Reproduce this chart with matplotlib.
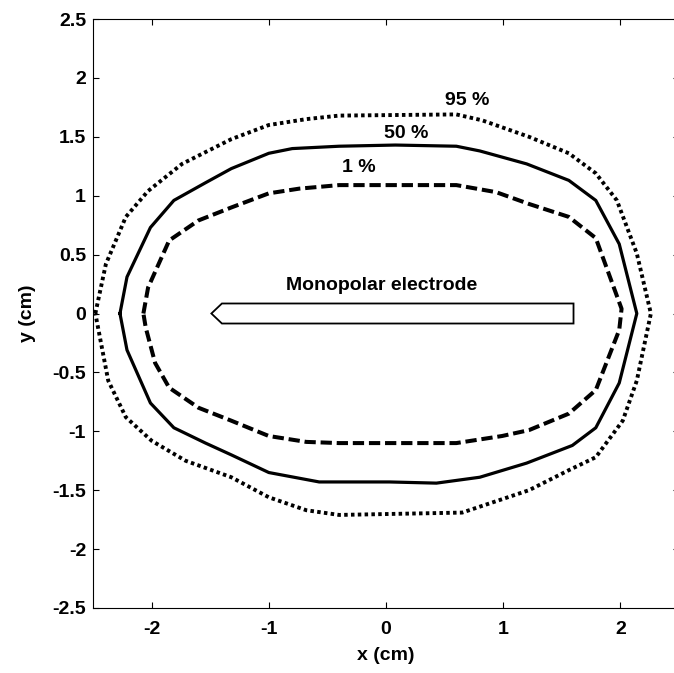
import matplotlib
matplotlib.use("Agg")
import matplotlib.pyplot as plt

plt.rcParams['font.family'] = ['Liberation Sans', 'DejaVu Sans']
plt.rcParams['font.weight'] = 'bold'
plt.rcParams['axes.labelweight'] = 'bold'

# contour levels (cm)
x_1pct = [-2.07, -2.03, -1.85, -1.6, -1.32, -1.0, -0.74, -0.4, 0.6, 0.94, 1.22, 1.56,
          1.79, 2.01, 1.99, 1.79, 1.56, 1.22, 0.99, 0.6, -0.4, -0.68, -1.0, -1.32,
          -1.6, -1.85, -1.97, -2.05, -2.07]
y_1pct = [0.0, 0.22, 0.62, 0.79, 0.9, 1.02, 1.06, 1.09, 1.09, 1.03, 0.93, 0.82,
          0.64, 0.04, -0.14, -0.65, -0.85, -0.99, -1.04, -1.1, -1.1, -1.09, -1.04, -0.91,
          -0.8, -0.63, -0.42, -0.12, 0.0]

x_50pct = [-2.27, -2.21, -2.01, -1.81, -1.54, -1.32, -1.0, -0.8, -0.4, 0.08, 0.6, 0.8,
           1.2, 1.56, 1.79, 1.99, 2.14, 1.99, 1.79, 1.59, 1.2, 0.8, 0.43, 0.03, -0.57,
           -1.0, -1.32, -1.54, -1.81, -2.01, -2.21, -2.27]
y_50pct = [0.0, 0.31, 0.73, 0.96, 1.11, 1.23, 1.36, 1.4, 1.42, 1.43, 1.42, 1.38,
           1.27, 1.13, 0.96, 0.59, 0.0, -0.59, -0.97, -1.12, -1.27, -1.39, -1.44, -1.43, -1.43,
           -1.35, -1.2, -1.1, -0.97, -0.76, -0.31, 0.0]

x_95pct = [-2.48, -2.39, -2.22, -2.03, -1.74, -1.32, -1.0, -0.68, -0.4, 0.6, 0.82,
           1.22, 1.56, 1.79, 1.97, 2.14, 2.26, 2.14, 2.02, 1.79, 1.56, 1.22, 0.65,
           -0.4, -0.68, -1.0, -1.32, -1.71, -2.0, -2.22, -2.37, -2.48]
y_95pct = [0.0, 0.42, 0.82, 1.04, 1.27, 1.48, 1.6, 1.65, 1.68, 1.69, 1.64,
           1.5, 1.36, 1.19, 0.96, 0.51, 0.0, -0.57, -0.91, -1.22, -1.33, -1.5, -1.69,
           -1.71, -1.67, -1.56, -1.39, -1.25, -1.08, -0.88, -0.57, 0.0]

# electrode outline
x_elec = [-1.49, -1.4, 1.6, 1.6, -1.4]
y_elec = [0.0, 0.085, 0.085, -0.085, -0.085]

labels = ["95 %", "50 %", "1 %"]
label_x = [0.69, 0.17, -0.23]
label_y = [1.81, 1.53, 1.24]

ticks_x = [-2, -1, 0, 1, 2]
ticks_y = [-2.5, -2, -1.5, -1, -0.5, 0, 0.5, 1, 1.5, 2, 2.5]

fig = plt.figure(figsize=(6.74, 6.73), dpi=100)
ax = fig.add_axes([93 / 674, 1 - 608 / 673, 586 / 674, 589 / 673])

ax.plot(x_95pct, y_95pct, color='black', lw=2.8, linestyle=(0, (0.9, 0.85)))
ax.plot(x_50pct, y_50pct, color='black', lw=2.3)
ax.plot(x_1pct, y_1pct, color='black', lw=2.9, linestyle=(0, (2.8, 1.2)))
ax.fill(x_elec, y_elec, facecolor='white', edgecolor='black', lw=1.3)

for t, tx, ty in zip(labels, label_x, label_y):
    ax.text(tx, ty, t, fontsize=14, ha='center', va='center')
ax.text(-0.04, 0.24, "Monopolar electrode", fontsize=14, ha='center', va='center')

ax.set_xlim(-2.5, 2.5)
ax.set_ylim(-2.5, 2.5)
ax.set_xticks(ticks_x)
ax.set_xticklabels([str(v) for v in ticks_x])
ax.set_yticks(ticks_y)
ax.set_yticklabels(['%g' % v for v in ticks_y])
ax.tick_params(direction='in', top=True, right=True, length=4, width=0.8,
               labelsize=14, pad=5)
ax.tick_params(axis='x', pad=9)
for s in ax.spines.values():
    s.set_linewidth(0.8)
ax.set_xlabel("x (cm)", fontsize=14, labelpad=7)
ax.set_ylabel("y (cm)", fontsize=14, labelpad=12)

fig.savefig("out.png", dpi=100)
